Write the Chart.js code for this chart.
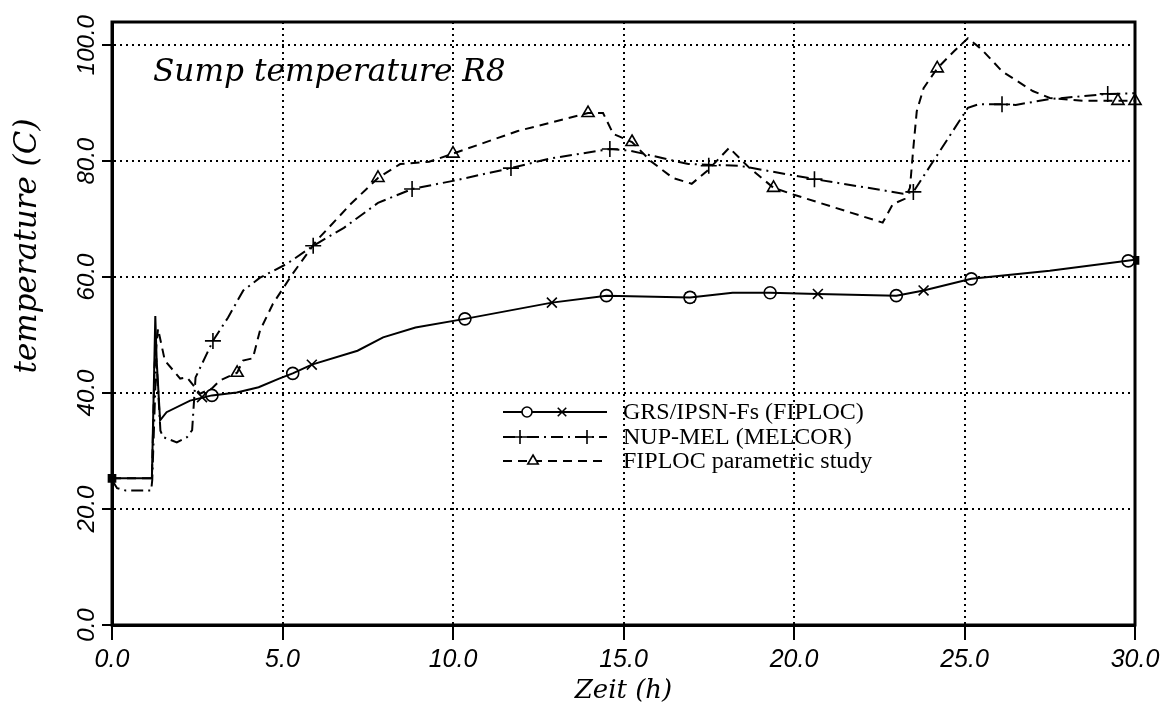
<!DOCTYPE html>
<html lang="en">
<head>
<meta charset="UTF-8">
<title>Sump temperature R8</title>
<script src="https://cdn.jsdelivr.net/npm/chart.js@4.4.1/dist/chart.umd.min.js"></script>
<style>
  html, body { margin: 0; padding: 0; background: #fff; }
</style>
</head>
<body>
<canvas id="chart" width="1171" height="719"></canvas>
<script>
// values (time in h, temperature in C)
const grsTime = [0, 1.17, 1.27, 1.31, 1.41, 1.6, 2.29, 2.93, 3.66, 4.3, 4.9, 5.3, 5.86, 7.2, 7.95, 8.9, 10.35, 12.9, 14.5, 16.95, 18.2, 19.3, 20.7, 23.0, 23.8, 25.2, 27.5, 30.0];
const grsTemp = [25.3, 25.3, 53.3, 45.6, 35.3, 36.7, 38.7, 39.6, 40.1, 41.0, 42.5, 43.4, 44.9, 47.3, 49.6, 51.3, 52.8, 55.6, 56.8, 56.5, 57.3, 57.3, 57.1, 56.8, 57.7, 59.7, 61.1, 63.0];

const melTime = [0, 0.15, 0.4, 1.15, 1.18, 1.3, 1.42, 1.5, 1.9, 2.2, 2.35, 2.45, 2.96, 3.4, 3.85, 4.34, 5.13, 5.9, 6.8, 7.8, 8.8, 10.0, 11.7, 12.8, 14.6, 15.2, 16.9, 18.4, 20.6, 23.2, 23.5, 25.1, 25.4, 26.1, 26.5, 27.5, 29.2, 30.0];
const melTemp = [25.0, 23.6, 23.2, 23.2, 25.0, 46.0, 33.5, 32.4, 31.5, 32.4, 33.6, 42.7, 49.0, 53.0, 57.7, 59.9, 62.3, 65.4, 68.5, 72.8, 75.2, 76.6, 78.8, 80.4, 82.1, 81.8, 79.5, 79.2, 76.9, 74.4, 74.7, 89.2, 89.8, 89.8, 89.7, 90.7, 91.6, 91.7];

const parTime = [0, 1.17, 1.25, 1.35, 1.55, 2.0, 2.2, 2.58, 2.93, 3.17, 3.67, 3.84, 4.13, 4.34, 4.72, 5.3, 6.0, 7.0, 7.8, 8.45, 9.3, 10.0, 11.9, 13.96, 14.4, 14.7, 15.25, 15.8, 16.45, 17.0, 17.45, 18.1, 18.7, 19.4, 20.0, 22.6, 22.9, 23.25, 23.4, 23.5, 23.6, 23.8, 24.2, 24.7, 25.1, 25.5, 26.1, 27.0, 27.5, 28.5, 29.5, 30.0];
const parTemp = [25.3, 25.3, 45.0, 51.1, 45.6, 42.5, 42.7, 39.9, 40.8, 42.2, 43.5, 45.6, 46.0, 50.8, 55.4, 60.6, 66.3, 72.6, 77.1, 79.5, 79.9, 81.3, 85.2, 88.3, 88.3, 84.7, 83.3, 80.0, 77.1, 76.1, 78.3, 82.3, 78.8, 75.4, 74.2, 69.4, 72.6, 73.5, 75.4, 82.3, 88.6, 92.6, 96.0, 99.0, 101.2, 99.3, 95.5, 92.1, 90.9, 90.4, 90.4, 90.4];

// marker positions on the curves
const grsCircleTime = [2.93, 5.3, 10.35, 14.5, 16.95, 19.3, 23.0, 25.2, 29.8];
const grsCircleTemp = [39.6, 43.4, 52.8, 56.8, 56.5, 57.3, 56.8, 59.7, 62.8];
const grsCrossTime = [2.64, 5.86, 12.9, 16.95, 20.7, 23.8];
const grsCrossTemp = [39.3, 44.9, 55.6, 56.5, 57.1, 57.7];
const melPlusTime = [2.96, 5.9, 8.8, 11.7, 14.6, 17.5, 20.6, 23.5, 26.1, 29.2];
const melPlusTemp = [49.0, 65.4, 75.2, 78.8, 82.1, 79.2, 76.9, 74.7, 89.8, 91.6];
const parTriTime = [3.67, 7.8, 10.0, 13.96, 15.25, 19.4, 24.2, 29.5, 30.0];
const parTriTemp = [43.5, 77.1, 81.3, 88.3, 83.3, 75.4, 96.0, 90.4, 90.4];
const boxTime = [0, 30.0];
const boxTemp = [25.3, 62.9];

const xTicks = [0, 5, 10, 15, 20, 25, 30];
const yTicks = [0, 20, 40, 60, 80, 100];

const seriesNames = ['GRS/IPSN-Fs (FIPLOC)', 'NUP-MEL (MELCOR)', 'FIPLOC parametric study'];
const chartTitle = 'Sump temperature R8';
const xTitle = 'Zeit (h)';
const yTitle = 'temperature (C)';

function pts(t, v) { return t.map((x, i) => ({ x: x, y: v[i] })); }

const DASHDOT = [12, 5, 2, 5];
const DASHED = [9, 6];
const SERIF = '"DejaVu Serif", "Liberation Serif", serif';
const SANS = '"Liberation Sans", Arial, sans-serif';

function line(data, dash) {
  return { type: 'line', data: data, borderColor: '#000', borderWidth: 2, borderDash: dash,
           pointRadius: 0, tension: 0, fill: false };
}
function marks(data, style, r, fill) {
  return { type: 'scatter', data: data, showLine: false, pointStyle: style, pointRadius: r,
           pointHoverRadius: r, borderColor: '#000', backgroundColor: fill, pointBorderWidth: 1.6,
           clip: false };
}

function fitFont(ctx, text, width, family) {
  let size = 30;
  ctx.font = 'italic ' + size + 'px ' + family;
  size = size * width / ctx.measureText(text).width;
  return 'italic ' + size.toFixed(1) + 'px ' + family;
}

const decor = {
  id: 'decor',
  afterDatasetsDraw(chart) {
    const ctx = chart.ctx, a = chart.chartArea;
    const H = Chart.helpers;
    ctx.save();
    ctx.strokeStyle = '#000';
    ctx.lineWidth = 3;
    ctx.setLineDash([]);
    ctx.strokeRect(a.left, a.top, a.right - a.left, a.bottom - a.top);

    // rotated y tick labels
    const ys = chart.scales.y;
    ctx.fillStyle = '#000';
    ctx.font = 'italic 24px ' + SANS;
    ctx.textAlign = 'center';
    ctx.textBaseline = 'middle';
    ys.ticks.forEach(t => {
      const py = ys.getPixelForValue(t.value);
      ctx.save();
      ctx.translate(a.left - 25, py);
      ctx.rotate(-Math.PI / 2);
      ctx.fillText(t.value.toFixed(1), 0, 0);
      ctx.restore();
    });

    // y title
    ctx.save();
    ctx.font = fitFont(ctx, yTitle, 255, SERIF);
    ctx.translate(28, 246);
    ctx.rotate(-Math.PI / 2);
    ctx.fillText(yTitle, 0, 0);
    ctx.restore();

    // title inside the plot
    ctx.font = fitFont(ctx, chartTitle, 353, SERIF);
    ctx.textAlign = 'left';
    ctx.textBaseline = 'alphabetic';
    ctx.fillText(chartTitle, a.left + 41, 81);

    // legend
    const lx0 = 503, lx1 = 607, rows = [412, 437, 461];
    const dashes = [[], DASHDOT, DASHED];
    ctx.lineWidth = 2;
    rows.forEach((ry, i) => {
      ctx.setLineDash(dashes[i]);
      ctx.beginPath();
      ctx.moveTo(lx0, ry);
      ctx.lineTo(lx1, ry);
      ctx.stroke();
    });
    ctx.setLineDash([]);
    const pt = (style, r, x, y, fill) => {
      ctx.fillStyle = fill;
      ctx.lineWidth = 1.6;
      H.drawPoint(ctx, { pointStyle: style, radius: r, rotation: 0, borderWidth: 1.6 }, x, y);
    };
    pt('circle', 5, 527, rows[0], '#fff');
    pt('crossRot', 6, 562, rows[0], '#fff');
    pt('cross', 7, 520, rows[1], '#fff');
    pt('cross', 7, 587, rows[1], '#fff');
    pt('triangle', 6, 533, rows[2], '#fff');

    ctx.fillStyle = '#000';
    ctx.font = '24px "Liberation Serif", "Times New Roman", serif';
    ctx.textAlign = 'left';
    ctx.textBaseline = 'middle';
    seriesNames.forEach((n, i) => ctx.fillText(n, 623, rows[i] + 1));
    ctx.restore();
  }
};

const gridStyle = { color: '#000', lineWidth: 2, tickBorderDash: [], tickColor: '#000', tickWidth: 2 };
const borderStyle = { display: true, color: '#000', width: 3, dash: [2, 4] };

new Chart(document.getElementById('chart'), {
  data: {
    datasets: [
      line(pts(grsTime, grsTemp), []),
      line(pts(melTime, melTemp), DASHDOT),
      line(pts(parTime, parTemp), DASHED),
      marks(pts(grsCircleTime, grsCircleTemp), 'circle', 6, '#fff'),
      marks(pts(grsCrossTime, grsCrossTemp), 'crossRot', 7, '#fff'),
      marks(pts(melPlusTime, melPlusTemp), 'cross', 8, '#fff'),
      marks(pts(parTriTime, parTriTemp), 'triangle', 7, '#fff'),
      marks(pts(boxTime, boxTemp), 'rect', 5, '#000')
    ]
  },
  options: {
    responsive: false,
    animation: false,
    devicePixelRatio: 1,
    layout: { padding: { left: 0, right: 36, top: 22, bottom: 0 } },
    plugins: { legend: { display: false }, tooltip: { enabled: false } },
    scales: {
      x: {
        type: 'linear', min: 0, max: 30,
        afterFit: s => { s.height = 94; },
        afterBuildTicks: s => { s.ticks = xTicks.map(v => ({ value: v })); },
        grid: Object.assign({ tickLength: 15 }, gridStyle),
        border: borderStyle,
        ticks: { color: '#000', padding: 5, maxRotation: 0, font: { family: SANS, style: 'italic', size: 25 },
                 callback: v => v.toFixed(1) },
        title: { display: true, text: xTitle, color: '#000', padding: { top: 0, bottom: 12 },
                 font: { family: SERIF, style: 'italic', size: 26 } }
      },
      y: {
        type: 'linear', min: 0, max: 104,
        afterFit: s => { s.width = 112; },
        afterBuildTicks: s => { s.ticks = yTicks.map(v => ({ value: v })); },
        grid: Object.assign({ tickLength: 10 }, gridStyle),
        border: borderStyle,
        ticks: { display: false }
      }
    }
  },
  plugins: [decor]
});
</script>
</body>
</html>
